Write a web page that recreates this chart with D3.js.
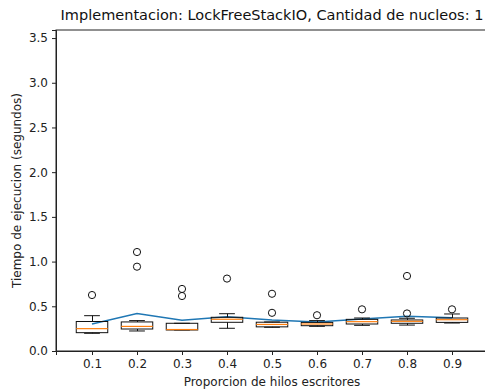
<!DOCTYPE html>
<html>
<head>
<meta charset="utf-8">
<script src="https://cdn.jsdelivr.net/npm/d3@7"></script>
<style>
  html, body { margin: 0; padding: 0; background: #fff; }
  svg { display: block; font-family: "DejaVu Sans", sans-serif; }
</style>
</head>
<body>
<svg id="chart" width="485" height="392"></svg>
<script>
// Writer-thread proportions (one box per proportion)
const categories = ["0.1", "0.2", "0.3", "0.4", "0.5", "0.6", "0.7", "0.8", "0.9"];
// Box statistics, execution time in seconds
const whiskerLow  = [0.198, 0.224, 0.235, 0.254, 0.265, 0.276, 0.287, 0.290, 0.313];
const q1          = [0.205, 0.246, 0.235, 0.321, 0.270, 0.283, 0.302, 0.310, 0.320];
const median      = [0.250, 0.275, 0.240, 0.355, 0.297, 0.302, 0.328, 0.332, 0.350];
const q3          = [0.330, 0.325, 0.310, 0.377, 0.322, 0.320, 0.354, 0.347, 0.369];
const whiskerHigh = [0.395, 0.340, 0.310, 0.417, 0.325, 0.340, 0.369, 0.366, 0.414];
const outliers    = [[0.626], [1.107, 0.943], [0.694, 0.615], [0.810], [0.640, 0.427],
                     [0.400], [0.466], [0.839, 0.420], [0.466]];
// Mean execution time per proportion
const means       = [0.302, 0.420, 0.343, 0.384, 0.347, 0.324, 0.358, 0.388, 0.373];
const yTicks      = [0.0, 0.5, 1.0, 1.5, 2.0, 2.5, 3.0, 3.5];

const svg = d3.select("#chart");
const plotLeft = 56, plotRight = 488, plotTop = 30, plotBottom = 351;

const x = d3.scaleLinear().domain([0.2, 9.8]).range([plotLeft, plotRight]);
const y = d3.scaleLinear().domain([0, 3.59]).range([plotBottom, plotTop]);
const pos = i => x(i + 1);
const boxW = 0.7 * (x(2) - x(1));
const capW = boxW / 2;

// Frame
svg.append("rect").attr("x", plotLeft).attr("y", plotTop)
  .attr("width", plotRight - plotLeft).attr("height", plotBottom - plotTop)
  .attr("fill", "none").attr("stroke", "#222").attr("stroke-width", 1);

// Axes
const xAxis = d3.axisBottom(x)
  .tickValues(categories.map((c, i) => i + 1))
  .tickFormat((d, i) => categories[i])
  .tickSizeOuter(0).tickSize(4).tickPadding(4);
const yAxis = d3.axisLeft(y)
  .tickValues(yTicks).tickFormat(d3.format(".1f"))
  .tickSizeOuter(0).tickSize(4).tickPadding(4);

const gx = svg.append("g").attr("transform", `translate(0,${plotBottom})`).call(xAxis);
const gy = svg.append("g").attr("transform", `translate(${plotLeft},0)`).call(yAxis);
[gx, gy].forEach(g => {
  g.select(".domain").attr("stroke", "#222");
  g.selectAll(".tick line").attr("stroke", "#222");
  g.selectAll(".tick text").attr("fill", "#222").style("font-size", "12px")
    .style("font-family", "DejaVu Sans, sans-serif");
});

const crisp = v => Math.round(v) + 0.5;

// Mean line
svg.append("path")
  .datum(means)
  .attr("fill", "none").attr("stroke", "#1f77b4").attr("stroke-width", 1.5)
  .attr("d", d3.line().x((d, i) => pos(i)).y(d => y(d)));

// Boxes
const g = svg.append("g").selectAll("g").data(categories).join("g");
g.each(function(c, i) {
  const s = d3.select(this);
  const cx = pos(i);
  const stroke = "#111";
  // whiskers
  s.append("line").attr("x1", crisp(cx)).attr("x2", crisp(cx))
    .attr("y1", y(q3[i])).attr("y2", y(whiskerHigh[i])).attr("stroke", stroke);
  s.append("line").attr("x1", crisp(cx)).attr("x2", crisp(cx))
    .attr("y1", y(q1[i])).attr("y2", y(whiskerLow[i])).attr("stroke", stroke);
  // caps
  s.append("line").attr("x1", cx - capW / 2).attr("x2", cx + capW / 2)
    .attr("y1", y(whiskerHigh[i])).attr("y2", y(whiskerHigh[i])).attr("stroke", stroke);
  s.append("line").attr("x1", cx - capW / 2).attr("x2", cx + capW / 2)
    .attr("y1", y(whiskerLow[i])).attr("y2", y(whiskerLow[i])).attr("stroke", stroke);
  // box
  s.append("rect").attr("x", cx - boxW / 2).attr("y", y(q3[i]))
    .attr("width", boxW).attr("height", y(q1[i]) - y(q3[i]))
    .attr("fill", "none").attr("stroke", stroke).attr("stroke-width", 1);
  // median
  s.append("line").attr("x1", cx - boxW / 2).attr("x2", cx + boxW / 2)
    .attr("y1", y(median[i])).attr("y2", y(median[i]))
    .attr("stroke", "#ff7f0e").attr("stroke-width", 1.2);
  // outliers
  s.selectAll("circle").data(outliers[i]).join("circle")
    .attr("cx", cx).attr("cy", d => y(d)).attr("r", 3.6)
    .attr("fill", "none").attr("stroke", stroke).attr("stroke-width", 1);
});

// Title and axis labels
const mid = (plotLeft + plotRight) / 2;
svg.append("text").attr("x", mid).attr("y", 20)
  .attr("text-anchor", "middle").style("font-size", "14.5px").attr("fill", "#111")
  .text("Implementacion: LockFreeStackIO, Cantidad de nucleos: 1");
svg.append("text").attr("x", mid).attr("y", 386)
  .attr("text-anchor", "middle").style("font-size", "12px").attr("fill", "#222")
  .text("Proporcion de hilos escritores");
svg.append("text")
  .attr("transform", `translate(21,${(plotTop + plotBottom) / 2}) rotate(-90)`)
  .attr("text-anchor", "middle").style("font-size", "12px").attr("fill", "#222")
  .text("Tiempo de ejecucion (segundos)");
</script>
</body>
</html>
